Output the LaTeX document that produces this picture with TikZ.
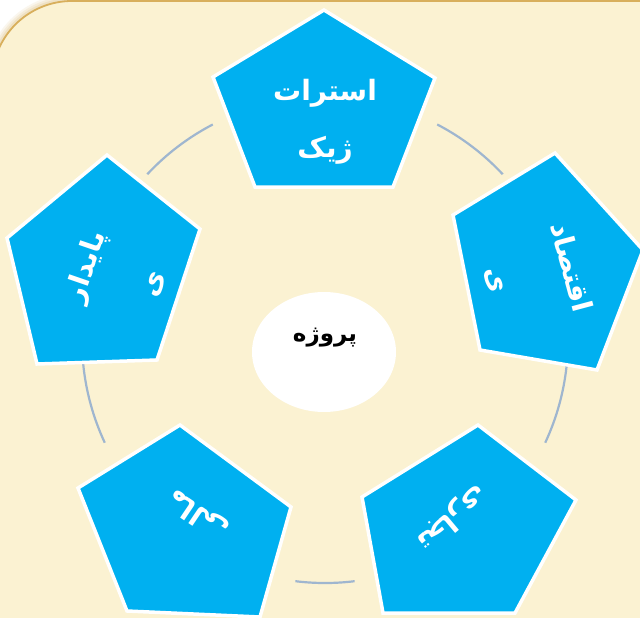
\documentclass[tikz,border=0pt]{standalone}
\usepackage{fontspec}
\newfontfamily\arabicfont[Script=Arabic]{DejaVu Sans}
\TeXXeTstate=1
\definecolor{cream}{HTML}{FBF2D2}
\definecolor{gold}{HTML}{D8AF5C}
\definecolor{pentblue}{HTML}{00B0F0}
\definecolor{arcgray}{HTML}{9FB6CF}
\definecolor{shadowtan}{HTML}{E2C88E}
\tikzset{
  pent/.style={fill=pentblue, draw=white, line width=3.5pt, line join=miter},
  ptext/.style={text=white, inner sep=0pt, font=\arabicfont\bfseries\fontsize{28}{28}\selectfont},
  ctext/.style={text=black, inner sep=0pt, font=\arabicfont\bfseries\fontsize{23}{23}\selectfont},
  ring/.style={draw=arcgray, line width=2.2pt},
}
\begin{document}
\begin{tikzpicture}[x=1pt,y=-1pt]
\useasboundingbox (0,0) rectangle (640,618);
\fill[white] (0,0) rectangle (640,618);
% background panel with soft shadow
\foreach \w/\o in {14/0.15,10/0.2,6/0.3}{
  \draw[shadowtan, line width=\w pt, opacity=\o, rounded corners=80pt] (-8,1) rectangle (720,720);
}
\draw[fill=cream, draw=gold, line width=1.8pt, rounded corners=80pt] (-8,1) rectangle (720,720);

% ring arcs
\coordinate (c) at (325,340);
\foreach \a/\b in {43/62.5, 117.5/137, 185.5/205, 263/277, 335/354.5}{
  \draw[ring] ([shift={(-\a:243)}]c) arc[start angle=-\a, end angle=-\b, radius=243];
}

% pentagons
\coordinate (t1) at (324,10);  \coordinate (t2) at (435,78);  \coordinate (t3) at (393,187);
\coordinate (t4) at (255,187); \coordinate (t5) at (213,77);
\coordinate (r1) at (555,153); \coordinate (r2) at (643,250); \coordinate (r3) at (597,370);
\coordinate (r4) at (480,350); \coordinate (r5) at (453,215);
\coordinate (s1) at (478,425); \coordinate (s2) at (576,500); \coordinate (s3) at (515,613);
\coordinate (s4) at (383,613); \coordinate (s5) at (362,497);
\coordinate (b1) at (180,425); \coordinate (b2) at (291,507); \coordinate (b3) at (260,617);
\coordinate (b4) at (127,611); \coordinate (b5) at (78,488);
\coordinate (l1) at (107,155); \coordinate (l2) at (200,229); \coordinate (l3) at (157,360);
\coordinate (l4) at (37,364);  \coordinate (l5) at (7,238);
\draw[pent] (t1)--(t2)--(t3)--(t4)--(t5)--cycle;
\draw[pent] (r1)--(r2)--(r3)--(r4)--(r5)--cycle;
\draw[pent] (s1)--(s2)--(s3)--(s4)--(s5)--cycle;
\draw[pent] (b1)--(b2)--(b3)--(b4)--(b5)--cycle;
\draw[pent] (l1)--(l2)--(l3)--(l4)--(l5)--cycle;

% texts
\node[ptext] (ta) at (325,93) {\beginR استرات\endR};
\node[ptext] (tb) at (325,150) {\beginR ژیک\endR};
\node[ptext, rotate=-75] (ra) at (572,267) {\beginR اقتصاد\endR};
\node[ptext, rotate=-75] (rb) at (494,281) {\beginR ی\endR};
\node[ptext, rotate=-140] (sa) at (452,518) {\beginR تجاری\endR};
\node[ptext, rotate=146] (ba) at (198,515) {\beginR مالی\endR};
\node[ptext, rotate=71] (la) at (87,267) {\beginR پایدار\endR};
\node[ptext, rotate=71] (lb) at (156,285) {\beginR ی\endR};

% center
\fill[white] (324,352) ellipse[x radius=72, y radius=60];
\node[ctext] (center) at (325,338) {\beginR پروژه\endR};
\end{tikzpicture}
\end{document}
